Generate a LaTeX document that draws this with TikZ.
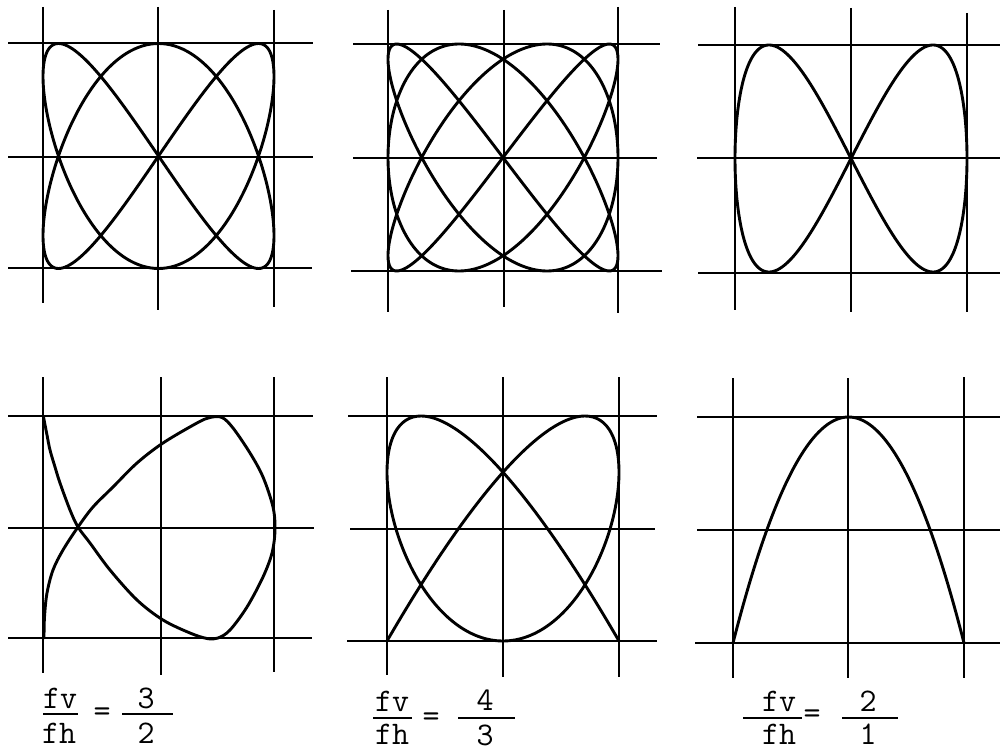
\documentclass[tikz,border=0pt]{standalone}
\begin{document}
\begin{tikzpicture}[x=1pt,y=-1pt,
  gridline/.style={line width=1.5pt},
  curve/.style={line width=2.9pt,line join=round,line cap=round},
  lbl/.style={inner sep=0pt,anchor=base,font=\fontsize{33}{33}\selectfont\ttfamily},
  eqs/.style={inner sep=0pt,anchor=center,font=\fontsize{33}{33}\selectfont\ttfamily},
  fbar/.style={line width=1.4pt}]
\useasboundingbox (0,0) rectangle (1000,751);
\fill[white] (0,0) rectangle (1000,751);
% ---------- panel 1 ----------
\draw[gridline] (43,7)--(43,303) (158,7)--(158,310) (274,10)--(274,307)
  (8,43)--(313,43) (8,157)--(313,157) (8,268)--(312,268);
\draw[curve] plot[domain=0:360,samples=361,smooth] ({158.5+115.5*sin(2*\x)},{156-112.5*sin(3*\x)}) -- cycle;
% ---------- panel 2 ----------
\draw[gridline] (388,10)--(388,312) (504,10)--(504,307) (618,7)--(618,313)
  (353,44)--(660,44) (353,158)--(657,158) (351,271)--(662,271);
\draw[curve] plot[domain=0:360,samples=361,smooth] ({503+115*sin(3*\x)},{157.5-113.5*sin(4*\x)}) -- cycle;
% ---------- panel 3 ----------
\draw[gridline] (735,7)--(735,310) (851,8)--(851,312) (967,13)--(967,312)
  (698,45)--(1000,45) (697,158)--(1000,158) (698,273)--(1000,273);
\draw[curve] plot[domain=0:360,samples=361,smooth] ({851+116*sin(\x)},{158.5-113.5*sin(2*\x)}) -- cycle;
% ---------- panel 4 ----------
\draw[gridline] (43,377)--(43,673) (161,377)--(161,675) (274,377)--(274,672)
  (8,416)--(313,416) (8,528)--(314,528) (8,638)--(312,638);
\draw[curve] plot[smooth,tension=0.55] coordinates {
  (43.5,417) (47,435) (50,450) (55,467) (60,483) (70,510) (78,527) (90,543)
  (110,570) (137,600) (163,620) (190,633) (207,638.5) (218,638) (230,630)
  (247,607) (263,577) (272,553) (275,530) (273,507) (263,477) (250,453)
  (233,428) (222,417.5) (210,417.5) (197,423) (163,443) (137,463) (113,487)
  (93,507) (78,527) (63,550) (53,570) (47,593) (44.5,617) (44,638)};
% ---------- panel 5 ----------
\draw[gridline] (387,377)--(387,675) (503,377)--(503,677) (619,377)--(619,677)
  (348,416)--(657,416) (350,529)--(655,529) (347,641)--(657,641);
\draw[curve] plot[domain=0:180,samples=181,smooth] ({503+116*cos(3*\x)},{528.5+112.5*cos(4*\x)});
% ---------- panel 6 ----------
\draw[gridline] (733,378)--(733,678) (848,378)--(848,678) (964,377)--(964,678)
  (697,417)--(1000,417) (697,530)--(1000,530) (695,643)--(1000,643);
\draw[curve] plot[domain=0:180,samples=121,smooth] ({848.5+115.5*cos(\x)},{530+113*cos(2*\x)});
% ---------- labels ----------
\node[lbl] (fva) at (60,708) {fv};
\node[lbl] (fha) at (59,743) {fh};
\draw[fbar] (43,714)--(78,714);
\node[eqs] (eqa) at (102,715) {=};
\node[lbl] (numa) at (146,708) {3};
\node[lbl] (dena) at (146,743) {2};
\draw[fbar] (122,714)--(173,714);

\node[lbl] (fvb) at (392,711) {fv};
\node[lbl] (fhb) at (392,744) {fh};
\draw[fbar] (373,718)--(412,718);
\node[eqs] (eqb) at (431,720) {=};
\node[lbl] (numb) at (485,710) {4};
\node[lbl] (denb) at (485,745) {3};
\draw[fbar] (458,718)--(515,718);

\node[lbl] (fvc) at (779,711) {fv};
\node[lbl] (fhc) at (779,744) {fh};
\draw[fbar] (743,718)--(802,718);
\node[eqs] (eqc) at (812,717) {=};
\node[lbl] (numc) at (868,711) {2};
\node[lbl] (denc) at (868,744) {1};
\draw[fbar] (842,718)--(898,718);
\end{tikzpicture}
\end{document}
